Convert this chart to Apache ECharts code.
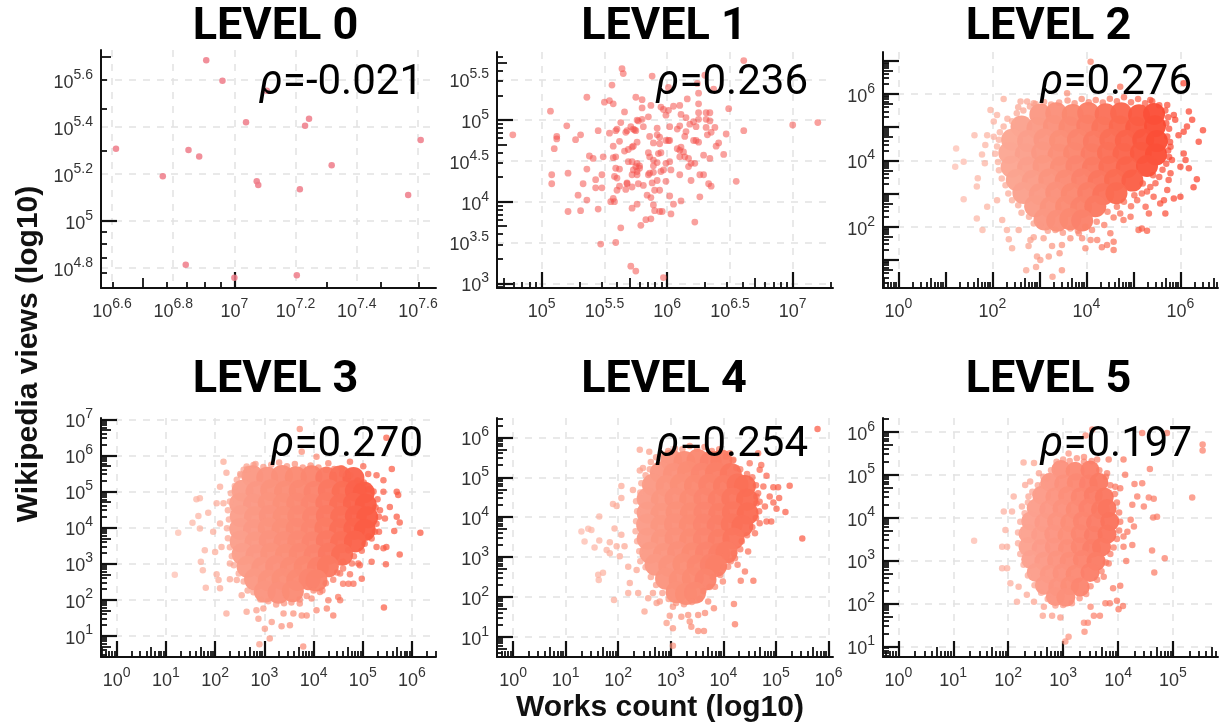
<!DOCTYPE html>
<html><head><meta charset="utf-8"><style>html,body{margin:0;padding:0;background:#fff}#c{width:1230px;height:724px}</style>
<script src="https://cdn.jsdelivr.net/npm/echarts@6/dist/echarts.min.js"></script></head><body><div id="c"></div>
<script>
const levelNames=['LEVEL 0','LEVEL 1','LEVEL 2','LEVEL 3','LEVEL 4','LEVEL 5'];
const rhoValues=['=-0.021','=0.236','=0.276','=0.270','=0.254','=0.197'];
const xLabels=[[6.6,6.8,7,7.2,7.4,7.6],[5,5.5,6,6.5,7],[0,2,4,6],[0,1,2,3,4,5,6],[0,1,2,3,4,5,6],[0,1,2,3,4,5]];
const yLabels=[[4.8,5,5.2,5.4,5.6],[3,3.5,4,4.5,5,5.5],[2,4,6],[1,2,3,4,5,6,7],[1,2,3,4,5,6],[1,2,3,4,5,6]];

const level0Points=[[6.613,5.308],[6.908,5.684],[6.961,5.597],[7.038,5.42],[7.106,5.555],[7.244,5.435],[7.231,5.406],[7.609,5.345],[6.85,5.302],[6.885,5.275],[6.766,5.191],[7.318,5.237],[7.073,5.169],[7.078,5.153],[7.214,5.135],[7.568,5.111],[6.841,4.814],[7.0,4.759],[7.204,4.769]];
const level1Points=[[4.77,4.82],[5.07,5.11],[5.08,4.33],[5.08,4.22],[5.1,4.65],[5.12,4.8],[5.12,4.77],[5.2,4.93],[5.21,4.35],[5.21,3.88],[5.27,4.76],[5.31,4.82],[5.31,3.89],[5.33,4.22],[5.29,4.08],[5.36,4.02],[5.36,4.4],[5.36,5.28],[5.38,4.56],[5.41,4.53],[5.43,4.27],[5.43,4.17],[5.45,3.91],[5.45,4.87],[5.48,4.33],[5.49,4.55],[5.48,4.17],[5.5,5.22],[5.54,5.24],[5.57,5.2],[5.56,5.43],[5.54,4.84],[5.59,4.87],[5.6,4.89],[5.57,4.68],[5.62,4.74],[5.59,4.55],[5.57,4.54],[5.58,4.31],[5.6,4.29],[5.59,4.41],[5.62,4.4],[5.6,4.14],[5.55,4.0],[5.58,4.0],[5.57,4.04],[5.64,5.63],[5.65,5.57],[5.66,5.1],[5.63,4.97],[5.68,4.87],[5.67,4.85],[5.73,4.89],[5.75,4.87],[5.74,4.88],[5.71,4.92],[5.76,5.0],[5.77,4.99],[5.8,5.01],[5.75,5.28],[5.8,5.25],[5.8,5.15],[5.87,5.18],[5.88,5.54],[5.85,5.04],[5.81,4.92],[5.76,4.73],[5.72,4.67],[5.73,4.68],[5.66,4.62],[5.69,4.64],[5.69,4.49],[5.72,4.49],[5.76,4.47],[5.75,4.43],[5.78,4.44],[5.73,4.39],[5.76,4.37],[5.72,4.33],[5.76,4.33],[5.78,4.41],[5.68,4.23],[5.68,4.22],[5.62,4.19],[5.67,4.15],[5.72,4.18],[5.77,4.22],[5.81,4.2],[5.88,4.23],[5.92,4.26],[5.85,4.33],[5.86,4.35],[5.89,4.36],[5.95,4.37],[5.97,4.39],[5.85,4.6],[5.86,4.55],[5.93,4.59],[5.95,4.6],[5.89,4.51],[5.92,4.48],[5.89,4.44],[5.86,4.8],[5.92,4.82],[5.94,4.79],[5.89,4.72],[5.94,4.71],[5.99,4.75],[6.02,4.75],[5.92,4.9],[5.95,5.16],[5.97,5.13],[6.01,5.12],[5.99,5.06],[6.05,5.17],[6.1,5.18],[6.11,5.07],[6.16,5.26],[6.25,5.33],[6.25,5.2],[6.25,5.09],[6.31,5.09],[6.34,5.09],[6.49,5.14],[6.15,5.03],[6.18,4.95],[6.21,4.98],[6.23,4.92],[6.25,5.01],[6.31,5.01],[6.34,4.99],[6.31,4.91],[6.38,4.91],[6.35,4.85],[6.32,4.82],[6.47,4.83],[6.61,4.87],[6.41,4.72],[6.39,4.68],[6.45,4.58],[6.34,4.53],[6.29,4.57],[6.21,4.75],[6.23,4.75],[6.25,4.73],[6.15,4.86],[6.14,4.8],[6.08,4.89],[6.1,4.93],[6.02,4.92],[6.01,4.75],[6.08,4.65],[6.1,4.63],[6.11,4.67],[6.13,4.61],[6.14,4.55],[6.1,4.55],[6.17,4.53],[6.19,4.47],[6.22,4.47],[6.17,4.43],[6.02,4.49],[5.99,4.47],[6.03,4.39],[6.1,4.33],[6.19,4.26],[6.26,4.33],[6.29,4.33],[6.33,4.22],[6.35,4.19],[6.55,4.25],[6.26,4.06],[6.11,4.01],[6.05,3.97],[6.02,4.07],[5.99,4.25],[5.94,4.14],[5.9,4.14],[5.84,4.08],[5.87,4.05],[5.76,3.97],[5.72,3.92],[5.89,3.96],[5.9,3.89],[5.94,3.88],[5.96,3.88],[6.03,3.85],[5.87,3.79],[5.83,3.78],[5.79,3.71],[5.63,3.68],[6.22,3.75],[5.59,3.5],[5.47,3.48],[5.71,3.21],[5.75,3.15],[5.97,3.07],[7.0,4.94],[7.2,4.97],[6.61,5.73],[6.3,5.55],[6.37,5.38],[6.01,5.4],[6.24,5.45]];

const level2Core=[[3.02,5.38],[3.36,5.42],[3.71,5.37],[4.04,5.43],[4.41,5.39],[4.74,5.42],[5.12,5.36],[5.44,5.4],
[2.62,5.02],[2.96,4.97],[3.31,5.03],[3.64,4.99],[4.02,5.04],[4.34,4.98],[4.71,5.02],[5.06,4.98],[5.46,5.03],
[2.42,4.62],[2.76,4.58],[3.11,4.63],[3.44,4.59],[3.82,4.62],[4.16,4.57],[4.51,4.63],[4.84,4.59],[5.21,4.62],[5.5,4.58],
[2.36,4.22],[2.71,4.18],[3.06,4.23],[3.41,4.17],[3.74,4.21],[4.11,4.18],[4.46,4.22],[4.79,4.19],[5.16,4.22],[5.48,4.18],
[2.41,3.81],[2.76,3.78],[3.09,3.83],[3.46,3.79],[3.79,3.82],[4.14,3.78],[4.49,3.81],[4.86,3.79],[5.29,3.83],
[2.52,3.41],[2.86,3.38],[3.21,3.42],[3.56,3.39],[3.91,3.43],[4.26,3.38],[4.61,3.41],[4.98,3.39],
[2.66,3.02],[3.01,2.98],[3.36,3.03],[3.69,2.99],[4.04,3.02],[4.36,2.98],[4.64,3.01],
[2.91,2.62],[3.24,2.58],[3.57,2.61],[3.89,2.59],[4.19,2.62],
[3.11,2.22],[3.38,2.18],[3.66,2.23],[3.91,2.19]];
const level2Edge=[[2.92,5.7],[3.1,5.76],[3.25,5.68],[3.42,5.74],[3.6,5.8],[3.75,5.72],[3.9,5.85],[4.05,5.75],[4.2,5.82],[4.35,5.74],[4.5,5.86],[4.65,5.78],[4.8,5.9],[4.95,5.75],[5.1,5.85],[5.25,5.72],[5.4,5.78],[5.55,5.66],[5.68,5.5],[5.74,5.3],[5.7,5.12],[5.76,4.95],[5.72,4.72],[5.78,4.55],[5.74,4.3],[5.76,4.1],[5.7,3.9],[5.62,3.72],[5.55,3.5],[5.42,3.55],[5.36,3.2],[5.2,3.3],[5.18,3.0],[5.02,2.95],[4.95,2.62],[4.8,2.75],[4.72,2.4],[4.58,2.28],[4.45,2.45],[4.38,2.05],[4.22,2.15],[4.12,1.9],[3.98,2.0],[3.82,1.88],[3.66,1.95],[3.5,1.82],[3.34,1.9],[3.18,1.88],[3.02,2.05],[2.88,2.1],[2.78,2.3],[2.62,2.42],[2.55,2.65],[2.42,2.8],[2.34,3.0],[2.28,3.25],[2.2,3.45],[2.14,3.7],[2.12,3.95],[2.06,4.2],[2.1,4.42],[2.14,4.62],[2.16,4.85],[2.24,5.02],[2.32,5.25],[2.42,5.18],[2.52,5.42],[2.66,5.5],[2.8,5.62],[2.55,5.6]];
const level2Fringe=[[1.23,4.36],[1.21,3.81],[1.39,3.96],[1.62,4.76],[1.39,2.83],[1.67,2.25],[1.79,1.9],[1.67,3.21],[1.69,3.46],[1.78,4.18],[1.84,3.91],[1.89,4.76],[1.85,4.46],[1.89,2.6],[1.96,5.52],[2.03,5.17],[2.1,5.37],[2.03,4.71],[2.1,2.8],[2.21,2.2],[2.31,1.9],[2.42,1.35],[2.35,1.62],[2.77,1.42],[2.88,1.68],[2.95,1.1],[3.02,1.0],[2.93,0.79],[2.72,0.69],[3.28,0.49],[3.48,0.69],[3.2,1.1],[3.27,1.42],[3.48,1.45],[3.43,1.2],[3.66,1.65],[3.91,1.65],[3.98,1.35],[4.09,1.6],[4.23,1.6],[4.33,1.38],[4.44,1.45],[4.58,1.55],[4.58,1.3],[4.51,1.8],[5.18,1.95],[5.29,1.88],[5.11,1.9],[4.94,2.3],[5.26,2.6],[5.33,2.4],[5.57,2.7],[5.68,2.4],[5.86,2.85],[6.0,2.9],[5.75,3.41],[5.79,3.61],[6.0,3.81],[6.18,3.76],[6.07,4.21],[6.11,4.01],[6.35,3.43],[6.28,3.19],[6.39,4.56],[6.48,4.91],[6.18,5.47],[6.25,5.22],[6.14,5.02],[6.07,4.86],[5.96,4.76],[5.86,5.37],[5.89,5.22],[5.79,4.41],[5.82,4.01],[5.47,3.31],[5.29,3.06],[5.08,2.8],[4.65,2.6],[4.79,2.2],[2.24,5.85],[2.6,5.77],[2.74,5.77],[2.88,5.72],[3.59,6.02],[4.09,6.97],[4.72,6.22],[5.36,5.82],[5.72,5.67],[6.07,6.32],[2.81,1.6],[2.56,1.9],[5.65,2.8],[5.43,2.9],[5.72,3.11],[3.09,1.65],[3.84,1.8]];

const level3Core=[[2.76,5.42],[3.06,5.38],[3.36,5.43],[3.64,5.39],[3.96,5.42],[4.26,5.38],[4.54,5.41],[4.81,5.37],
[2.56,5.02],[2.84,4.98],[3.14,5.03],[3.42,4.99],[3.72,5.02],[4.02,4.98],[4.31,5.03],[4.59,4.98],[4.86,5.02],[5.02,4.97],
[2.51,4.66],[2.79,4.63],[3.09,4.67],[3.39,4.64],[3.67,4.66],[3.96,4.63],[4.26,4.67],[4.54,4.63],[4.82,4.66],[5.06,4.63],
[2.52,4.31],[2.81,4.28],[3.11,4.32],[3.39,4.29],[3.69,4.31],[3.99,4.28],[4.27,4.32],[4.56,4.29],[4.86,4.31],[5.09,4.28],
[2.51,3.96],[2.79,3.93],[3.09,3.97],[3.37,3.94],[3.66,3.96],[3.96,3.93],[4.24,3.97],[4.54,3.94],[4.83,3.96],[5.04,3.93],
[2.52,3.61],[2.82,3.58],[3.11,3.62],[3.41,3.59],[3.69,3.61],[3.98,3.58],[4.27,3.62],[4.56,3.59],[4.84,3.61],
[2.56,3.26],[2.84,3.23],[3.14,3.27],[3.44,3.24],[3.72,3.26],[4.02,3.23],[4.31,3.27],[4.58,3.24],
[2.66,2.91],[2.96,2.88],[3.24,2.92],[3.54,2.89],[3.82,2.91],[4.09,2.88],[4.29,2.92],
[2.81,2.56],[3.09,2.53],[3.37,2.57],[3.67,2.54],[3.92,2.56],[4.06,2.53],
[3.01,2.22],[3.29,2.19],[3.58,2.23]];
const level3Edge=[[2.66,5.62],[2.82,5.76],[2.98,5.68],[3.14,5.74],[3.3,5.8],[3.46,5.7],[3.62,5.76],[3.78,5.66],[3.94,5.72],[4.1,5.66],[4.26,5.6],[4.42,5.62],[4.58,5.48],[4.74,5.45],[4.9,5.3],[5.02,5.25],[5.12,5.06],[5.22,5.0],[5.3,4.78],[5.26,4.55],[5.33,4.3],[5.28,4.1],[5.25,3.88],[5.12,3.75],[5.04,3.55],[4.98,3.35],[4.82,3.2],[4.78,3.0],[4.6,3.05],[4.48,2.75],[4.4,2.55],[4.25,2.45],[4.18,2.25],[4.0,2.25],[3.86,2.1],[3.72,2.0],[3.55,1.92],[3.4,1.9],[3.24,1.86],[3.08,1.95],[2.92,2.0],[2.78,2.2],[2.66,2.25],[2.58,2.5],[2.48,2.72],[2.38,2.95],[2.34,3.2],[2.3,3.45],[2.26,3.7],[2.24,3.98],[2.28,4.22],[2.26,4.48],[2.3,4.72],[2.32,4.95],[2.4,5.15],[2.44,5.32],[2.52,5.45],[2.58,5.6]];
const level3Fringe=[[1.69,4.81],[1.62,4.78],[1.66,4.32],[1.54,4.13],[1.69,3.97],[1.86,4.41],[1.96,3.88],[2.03,4.67],[2.1,4.11],[1.25,3.85],[1.18,2.69],[1.79,3.37],[2.0,3.32],[1.71,3.05],[1.75,2.81],[1.81,2.33],[2.1,2.31],[2.03,2.7],[2.07,2.54],[2.3,2.56],[2.44,2.54],[2.54,2.12],[2.23,1.61],[2.64,1.66],[2.84,1.7],[2.98,1.75],[2.88,1.47],[3.15,1.38],[3.01,1.19],[3.11,0.92],[2.9,0.76],[3.35,1.26],[3.52,1.29],[3.39,1.61],[3.59,1.61],[3.72,1.89],[3.86,1.56],[3.76,1.56],[3.96,2.03],[4.06,1.7],[4.13,2.21],[4.3,1.98],[4.27,1.75],[4.4,1.56],[4.5,2.07],[4.54,1.98],[4.6,2.44],[4.71,2.44],[4.81,2.44],[4.98,2.58],[4.74,2.7],[4.6,2.86],[4.94,2.95],[4.91,3.0],[5.18,3.05],[5.47,2.98],[5.75,3.25],[5.43,1.78],[5.42,3.42],[5.48,3.46],[5.28,3.46],[5.18,3.69],[5.33,3.88],[5.64,3.9],[5.75,4.14],[6.17,3.85],[5.69,4.3],[5.45,4.25],[5.55,4.57],[5.35,4.48],[5.69,4.99],[5.72,4.9],[5.42,4.99],[5.59,5.62],[5.42,5.31],[5.28,5.45],[5.11,5.48],[5.01,5.7],[4.74,5.82],[5.48,6.49],[3.72,6.73],[3.76,6.1],[4.06,5.96],[4.3,5.78],[4.57,5.64],[2.17,5.82],[2.23,5.52],[2.1,5.13],[2.51,5.48],[2.64,5.69],[2.78,5.73],[2.17,4.67],[3.79,0.7],[4.71,3.37],[4.54,2.72],[2.3,3.0],[2.13,3.46]];

const level4Core=[[3.01,5.42],[3.26,5.38],[3.51,5.43],[3.76,5.39],[3.96,5.42],
[2.81,5.12],[3.06,5.08],[3.33,5.13],[3.59,5.09],[3.86,5.11],[4.14,5.08],
[2.66,4.81],[2.92,4.78],[3.19,4.82],[3.46,4.79],[3.73,4.81],[4.01,4.78],[4.27,4.82],[4.41,4.78],
[2.56,4.46],[2.83,4.43],[3.09,4.47],[3.37,4.44],[3.64,4.46],[3.91,4.43],[4.17,4.47],[4.45,4.44],
[2.56,4.11],[2.82,4.08],[3.11,4.12],[3.38,4.09],[3.64,4.11],[3.92,4.08],[4.18,4.12],[4.46,4.09],
[2.55,3.81],[2.82,3.78],[3.08,3.82],[3.36,3.79],[3.63,3.81],[3.89,3.78],[4.16,3.82],[4.36,3.78],
[2.56,3.46],[2.83,3.43],[3.09,3.47],[3.37,3.44],[3.63,3.46],[3.91,3.43],[4.19,3.47],
[2.61,3.11],[2.87,3.08],[3.14,3.12],[3.41,3.09],[3.67,3.11],[3.92,3.08],[4.06,3.12],
[2.71,2.81],[2.97,2.78],[3.24,2.82],[3.51,2.79],[3.76,2.81],[3.86,2.78],
[2.91,2.46],[3.17,2.43],[3.42,2.47],[3.66,2.44],
[3.11,2.12],[3.29,2.08],[3.46,2.11]];
const level4Edge=[[2.72,5.5],[2.82,5.58],[2.95,5.66],[3.08,5.72],[3.22,5.7],[3.36,5.78],[3.5,5.72],[3.64,5.76],[3.78,5.66],[3.92,5.7],[4.05,5.52],[4.18,5.42],[4.32,5.2],[4.45,5.08],[4.55,5.0],[4.62,4.8],[4.66,4.6],[4.63,4.35],[4.68,4.15],[4.62,3.98],[4.55,3.75],[4.45,3.55],[4.35,3.4],[4.32,3.2],[4.2,3.1],[4.14,2.9],[4.0,2.75],[3.94,2.55],[3.8,2.5],[3.74,2.25],[3.62,2.15],[3.55,1.95],[3.4,1.88],[3.25,1.82],[3.1,1.85],[2.96,1.95],[2.84,2.1],[2.72,2.3],[2.62,2.5],[2.52,2.75],[2.42,2.9],[2.4,3.15],[2.36,3.4],[2.33,3.65],[2.34,3.9],[2.36,4.15],[2.34,4.4],[2.42,4.62],[2.44,4.85],[2.52,5.05],[2.6,5.2],[2.62,5.38]];
const level4Fringe=[[1.3,3.64],[1.43,3.71],[1.49,3.68],[1.36,3.39],[1.64,3.42],[1.55,3.24],[1.64,4.02],[1.84,3.37],[1.78,3.18],[1.84,3.1],[1.97,3.27],[2.03,3.02],[2.12,3.27],[1.93,3.72],[2.06,3.56],[1.9,4.33],[1.97,4.28],[2.06,4.48],[2.06,4.78],[2.28,4.68],[2.41,5.17],[2.47,5.23],[2.41,5.69],[2.59,5.64],[2.19,2.76],[2.35,2.68],[2.22,2.35],[2.19,2.1],[2.38,2.1],[1.71,2.61],[1.62,2.56],[1.63,2.43],[1.92,1.93],[2.57,1.97],[2.5,1.64],[2.73,1.85],[2.98,1.53],[2.92,1.35],[3.04,1.22],[3.04,0.78],[3.2,1.51],[3.33,1.55],[3.36,1.39],[3.39,1.26],[3.52,1.15],[3.63,1.15],[3.52,1.55],[3.65,1.6],[3.71,1.89],[3.82,1.72],[3.84,2.26],[3.99,2.39],[4.2,1.83],[4.22,1.32],[4.33,2.41],[4.57,2.41],[4.41,2.64],[4.27,2.81],[4.09,2.76],[4.22,2.97],[4.47,3.14],[5.5,3.47],[5.18,4.13],[5.01,4.21],[4.91,3.89],[4.82,3.89],[4.69,3.85],[4.6,3.6],[4.95,4.37],[5.06,4.48],[4.88,4.52],[4.79,4.27],[4.69,4.39],[4.76,4.77],[4.95,4.75],[5.04,4.75],[5.26,4.79],[4.72,5.31],[4.69,5.19],[4.82,5.04],[4.5,5.35],[4.25,5.23],[4.19,5.44],[5.79,6.21],[4.66,5.6],[4.63,4.52],[2.66,2.1],[2.79,1.89],[4.03,3.02],[4.12,5.6],[3.04,1.76]];

const level5Core=[[2.96,5.12],[3.22,5.08],[3.49,5.11],
[2.76,4.82],[3.01,4.78],[3.24,4.81],[3.46,4.78],[3.65,4.82],
[2.61,4.52],[2.85,4.48],[3.08,4.51],[3.31,4.48],[3.55,4.52],[3.75,4.48],
[2.51,4.22],[2.74,4.18],[2.98,4.21],[3.22,4.18],[3.45,4.22],[3.68,4.18],[3.8,4.21],
[2.41,3.92],[2.65,3.88],[2.88,3.91],[3.12,3.88],[3.35,3.92],[3.59,3.88],[3.85,3.91],
[2.36,3.62],[2.59,3.58],[2.83,3.61],[3.07,3.58],[3.31,3.62],[3.55,3.58],[3.8,3.61],
[2.36,3.32],[2.6,3.28],[2.84,3.31],[3.08,3.28],[3.31,3.32],[3.52,3.28],[3.7,3.31],
[2.41,3.02],[2.65,2.98],[2.88,3.01],[3.11,2.98],[3.35,3.02],[3.6,2.98],
[2.51,2.72],[2.75,2.68],[2.98,2.71],[3.22,2.68],[3.49,2.72],
[2.66,2.42],[2.9,2.38],[3.12,2.41],[3.31,2.38],
[2.86,2.16],[3.05,2.14]];
const level5Edge=[[2.78,5.1],[2.88,5.3],[3.0,5.35],[3.12,5.32],[3.25,5.38],[3.38,5.3],[3.52,5.32],[3.66,5.1],[3.78,4.95],[3.86,4.75],[3.94,4.55],[3.98,4.35],[4.02,4.12],[4.04,3.9],[4.02,3.7],[3.98,3.5],[3.92,3.3],[3.86,3.15],[3.78,2.95],[3.7,2.75],[3.62,2.55],[3.5,2.4],[3.42,2.22],[3.3,2.12],[3.16,2.0],[3.0,1.96],[2.86,1.95],[2.72,2.1],[2.6,2.25],[2.48,2.42],[2.36,2.65],[2.28,2.9],[2.22,3.15],[2.18,3.4],[2.18,3.65],[2.22,3.9],[2.3,4.1],[2.36,4.35],[2.44,4.6],[2.54,4.75],[2.64,4.95]];
const level5Fringe=[[1.38,3.46],[1.92,4.14],[2.07,4.14],[2.1,4.49],[1.95,3.71],[1.89,3.32],[1.98,3.32],[1.89,2.82],[1.98,2.82],[2.04,2.47],[2.19,2.39],[2.16,2.04],[2.34,2.2],[2.47,2.04],[2.65,1.92],[2.63,1.71],[2.8,1.71],[2.95,1.67],[3.1,1.22],[3.04,1.11],[3.39,1.34],[3.38,1.55],[3.45,1.55],[3.56,1.71],[3.67,1.71],[3.5,1.92],[3.77,2.0],[3.85,2.0],[3.98,2.06],[4.01,1.86],[4.09,1.94],[3.91,2.35],[4.04,2.41],[3.74,2.62],[3.83,2.93],[4.15,2.99],[4.26,3.36],[4.1,3.32],[4.62,3.23],[4.85,3.05],[4.66,2.72],[4.64,4.0],[4.71,4.02],[4.47,4.26],[4.35,4.49],[4.56,4.47],[4.65,4.44],[5.35,4.47],[4.44,4.8],[4.3,4.78],[4.13,5.0],[4.58,5.13],[4.1,5.35],[3.83,5.35],[5.54,5.7],[5.54,5.56],[4.89,5.97],[4.44,5.97],[3.53,6.05],[3.41,5.91],[3.1,5.49],[3.38,5.41],[2.28,5.28],[2.31,4.76],[2.4,4.84],[2.56,5.03],[2.62,4.76],[2.25,4.26],[2.37,4.49],[2.71,4.92],[4.23,3.95],[4.29,3.79],[4.17,3.67],[4.26,4.3],[4.04,4.68],[3.95,4.72],[4.1,3.56],[3.62,5.35],[3.8,5.03],[2.47,5.27]];

const corePoints=[[],[],level2Core,level3Core,level4Core,level5Core];
const fringePoints=[level0Points,level1Points,level2Fringe.concat(level2Edge),level3Fringe.concat(level3Edge),level4Fringe.concat(level4Edge),level5Fringe.concat(level5Edge)];

const xRanges=[[6.564,7.659],[4.644,7.321],[-0.326,6.80],[-0.319,6.488],[-0.305,6.084],[-0.279,5.82]];
const yRanges=[[4.715,5.728],[2.942,5.835],[0.154,7.265],[0.406,7.036],[0.5,6.484],[0.75,6.32]];
const gridBoxes=[[101,50,335,238],[497,52,336,236],[883,52,335,236],[101,418,335,239],[497,418,336,239],[883,418,335,239]];
const titleCenter=[275.5,664,1048.5,275.5,664,1048.5];
const titleTop=[3,3,3,356,356,356];
const rhoBox=[[807,62],[422,62],[38,62],[807,424],[422,424],[38,424]];
const decadeColors=[
 null,null,
 ['#fdc8bc','#fdbfb1','#fcae9c','#fb9a85','#fb8068','#fb5f46','#fb3d28','#fb3d28'],
 ['#fdc8bc','#fdbfb1','#fca996','#fb9580','#fb856e','#fb5e46','#fb5038','#fb5038'],
 ['#fdc8bc','#fdbfb1','#fca895','#fb937d','#fb7d65','#fb5a42','#fb523c','#fb523c'],
 ['#fdc8bc','#fdbfb1','#fcab9a','#fc917d','#fb6f57','#fb7a65','#fb7a65','#fb7a65']
];

function ticks(range){
  const d=[],f=[],m=[];
  for(let n=Math.floor(range[0]);n<=Math.ceil(range[1]);n++){
    for(let k=1;k<=9;k++){
      const v=n+Math.log10(k);
      if(v<range[0]||v>range[1])continue;
      (k===1?d:k===5?f:m).push(v);
    }
  }
  return {d,f,m};
}
const fmt=v=>'{b|10}{s|'+(Math.round(v*10)/10)+'}';
const labelRich={b:{fontSize:18,fontFamily:'Liberation Sans',color:'#333',lineHeight:24,verticalAlign:'bottom'},s:{fontSize:14,fontFamily:'Liberation Sans',color:'#333',lineHeight:14,verticalAlign:'top'}};
const grids=[],xAxes=[],yAxes=[],series=[],titles=[],visualMaps=[];
const stroke='#111';
function addAxes(list,g,pos,range,labels){
  const common={type:'value',gridIndex:g,position:pos,min:range[0],max:range[1],scale:true};
  list.push({...common,axisLine:{show:true,onZero:false,lineStyle:{color:stroke,width:2}},
    axisTick:{show:false,customValues:labels},
    axisLabel:{show:true,customValues:labels,formatter:fmt,rich:labelRich,margin:pos==='bottom'?9:8,showMinLabel:true,showMaxLabel:true,hideOverlap:false},
    splitLine:{show:true,lineStyle:{color:'#e2e2e2',width:1.5,type:[7,7]}}});
  const t=ticks(range);
  [[t.d,16,2.2],[t.f,10,1.8],[t.m,6,1.8]].forEach(([vals,len,w])=>{
    list.push({...common,axisLine:{show:false,onZero:false},axisLabel:{show:false},splitLine:{show:false},
      axisTick:{show:true,inside:true,length:len,customValues:vals,lineStyle:{color:stroke,width:w}}});
  });
}
levelNames.forEach((name,i)=>{
  const b=gridBoxes[i];
  grids.push({left:b[0],top:b[1],width:b[2],height:b[3],containLabel:false});
  const xStart=xAxes.length,yStart=yAxes.length;
  addAxes(xAxes,i,'bottom',xRanges[i],xLabels[i]);
  addAxes(yAxes,i,'left',yRanges[i],yLabels[i]);
  const idx=[];
  if(corePoints[i].length){
    idx.push(series.length);
    series.push({type:'scatter',xAxisIndex:xStart,yAxisIndex:yStart,data:corePoints[i],symbolSize:i===5?19:22,silent:true,animation:false,itemStyle:{opacity:0.97}});
  }
  const col=i===0?'#ee7b88':i===1?'#f4524c':'#fb6a52';
  if(i>1)idx.push(series.length);
  series.push({type:'scatter',xAxisIndex:xStart,yAxisIndex:yStart,data:fringePoints[i],symbolSize:i===1?6.8:6.5,silent:true,animation:false,itemStyle:{color:col,opacity:i===0?0.85:i===1?0.55:0.7}});
  if(decadeColors[i])visualMaps.push({type:'continuous',show:false,seriesIndex:idx,dimension:0,min:0,max:7,inRange:{color:decadeColors[i]}});
  titles.push({text:name,left:titleCenter[i],top:titleTop[i],padding:0,textAlign:'center',textStyle:{fontFamily:'Roboto',fontWeight:'bold',fontSize:45,color:'#000',lineHeight:50}});
  titles.push({text:'{i|ρ}{n|'+rhoValues[i]+'}',right:rhoBox[i][0],top:rhoBox[i][1],padding:0,textStyle:{fontWeight:'normal',rich:{i:{fontFamily:'Roboto',fontStyle:'italic',fontWeight:'normal',fontSize:42,color:'#000'},n:{fontFamily:'Roboto',fontWeight:'normal',fontSize:42,color:'#000'}}}});
});
const chart=echarts.init(document.getElementById('c'),null,{renderer:'canvas'});
chart.setOption({animation:false,backgroundColor:'#fff',grid:grids,xAxis:xAxes,yAxis:yAxes,series,title:titles,visualMap:visualMaps,
 graphic:[
  {type:'text',x:29,y:354,rotation:Math.PI/2,style:{text:'Wikipedia views (log10)',font:'bold 30px "Liberation Sans"',fill:'#111',textAlign:'center',textVerticalAlign:'middle'}},
  {type:'text',x:660,y:708,style:{text:'Works count (log10)',font:'bold 30px "Liberation Sans"',fill:'#111',textAlign:'center',textVerticalAlign:'middle'}}
 ]});
</script></body></html>
